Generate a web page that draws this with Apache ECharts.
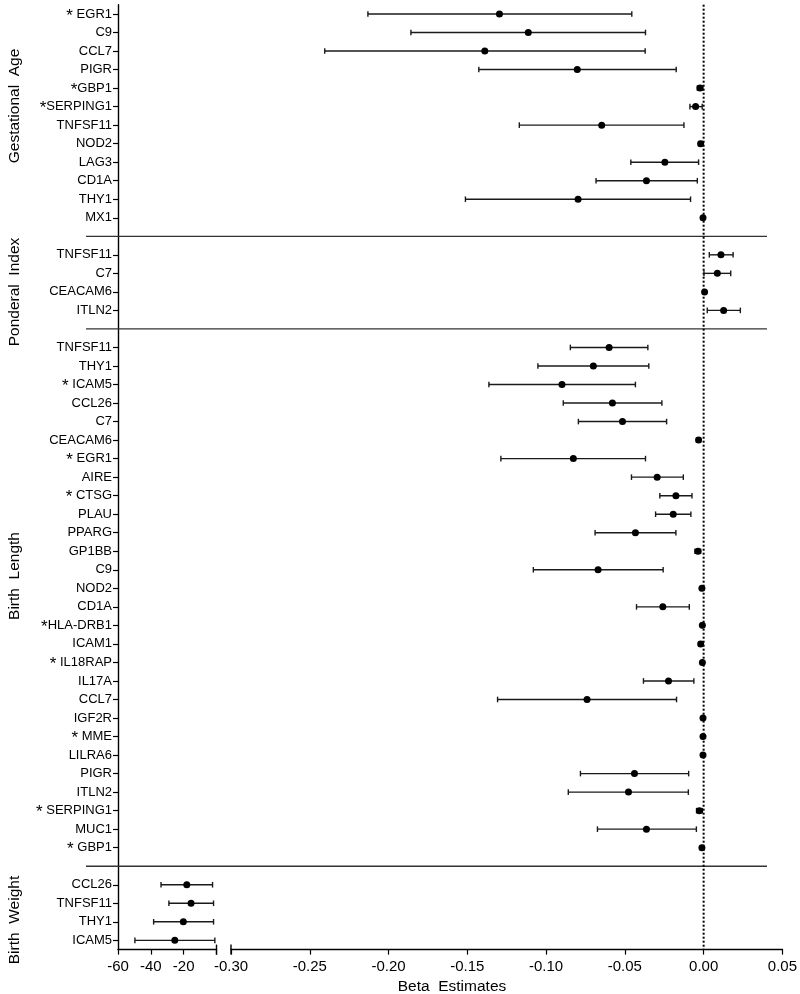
<!DOCTYPE html>
<html>
<head>
<meta charset="utf-8">
<script src="https://cdn.jsdelivr.net/npm/echarts@6/dist/echarts.min.js"></script>
<style>
html,body{margin:0;padding:0;background:#fff;}
#chart{width:800px;height:994px;}
</style>
</head>
<body>
<div id="chart"></div>
<script>
// ---------------- DATA ----------------
const panelTitles = ['Gestational  Age', 'Ponderal  Index', 'Birth  Length', 'Birth  Weight'];

const gaGenes = ['* EGR1', 'C9', 'CCL7', 'PIGR', '*GBP1', '*SERPING1', 'TNFSF11', 'NOD2', 'LAG3', 'CD1A', 'THY1', 'MX1'];
const gaEst  = [-0.1296, -0.1113, -0.1389, -0.0802, -0.0023, -0.0051, -0.0647, -0.0019, -0.0246, -0.0363, -0.0797, -0.0004];
const gaLow  = [-0.2131, -0.1858, -0.2405, -0.1427, -0.0040, -0.0087, -0.1170, -0.0032, -0.0462, -0.0683, -0.1512, -0.0008];
const gaHigh = [-0.0456, -0.0369, -0.0371, -0.0174, -0.0006, -0.0009, -0.0125, -0.0007, -0.0032, -0.0040, -0.0083, -0.0001];

const piGenes = ['TNFSF11', 'C7', 'CEACAM6', 'ITLN2'];
const piEst  = [0.0110, 0.0087, 0.0006, 0.0127];
const piLow  = [0.0036, 0.0002, 0.0004, 0.0023];
const piHigh = [0.0187, 0.0172, 0.0008, 0.0233];

const blGenes = ['TNFSF11', 'THY1', '* ICAM5', 'CCL26', 'C7', 'CEACAM6', '* EGR1', 'AIRE', '* CTSG', 'PLAU',
                 'PPARG', 'GP1BB', 'C9', 'NOD2', 'CD1A', '*HLA-DRB1', 'ICAM1', '* IL18RAP', 'IL17A', 'CCL7',
                 'IGF2R', '* MME', 'LILRA6', 'PIGR', 'ITLN2', '* SERPING1', 'MUC1', '* GBP1'];
const blEst  = [-0.0600, -0.0700, -0.0899, -0.0579, -0.0515, -0.0032, -0.0827, -0.0295, -0.0176, -0.0193,
                -0.0433, -0.0036, -0.0670, -0.0011, -0.0259, -0.0008, -0.0019, -0.0008, -0.0223, -0.0740,
                -0.0004, -0.0004, -0.0004, -0.0439, -0.0477, -0.0027, -0.0363, -0.0011];
const blLow  = [-0.0846, -0.1052, -0.1363, -0.0891, -0.0795, -0.0045, -0.1287, -0.0458, -0.0278, -0.0305,
                -0.0689, -0.0055, -0.1081, -0.0013, -0.0426, -0.0010, -0.0030, -0.0010, -0.0382, -0.1308,
                -0.0005, -0.0005, -0.0005, -0.0782, -0.0859, -0.0045, -0.0674, -0.0013];
const blHigh = [-0.0354, -0.0348, -0.0433, -0.0265, -0.0235, -0.0020, -0.0369, -0.0129, -0.0074, -0.0081,
                -0.0176, -0.0019, -0.0257, -0.0009, -0.0091, -0.0006, -0.0010, -0.0006, -0.0062, -0.0172,
                -0.0003, -0.0003, -0.0003, -0.0095, -0.0097, -0.0008, -0.0046, -0.0009];

const bwGenes = ['CCL26', 'TNFSF11', 'THY1', 'ICAM5'];
const bwEst  = [-18.1, -15.5, -20.2, -25.4];
const bwLow  = [-33.8, -29.0, -38.3, -49.7];
const bwHigh = [-2.4, -1.8, -1.8, -1.0];

const bwTicks = [-60, -40, -20];
const betaTicks = [-0.30, -0.25, -0.20, -0.15, -0.10, -0.05, 0.00, 0.05];

// ---------------- BUILD ROWS ----------------
const categories = [];   // unique keys
const labelOf = {};
const betaRows = [];     // [low, est, high, rowIndex]
const bwRows = [];
const dividerRows = [];

function addPanel(tag, genes, est, low, high, target) {
  genes.forEach((g, i) => {
    const key = tag + ':' + i;
    categories.push(key);
    labelOf[key] = g;
    target.push([low[i], est[i], high[i], categories.length - 1]);
  });
}
function addDivider(n) {
  const key = 'div:' + n;
  categories.push(key);
  labelOf[key] = '';
  dividerRows.push([categories.length - 1]);
}
addPanel('ga', gaGenes, gaEst, gaLow, gaHigh, betaRows); addDivider(1);
addPanel('pi', piGenes, piEst, piLow, piHigh, betaRows); addDivider(2);
addPanel('bl', blGenes, blEst, blLow, blHigh, betaRows); addDivider(3);
addPanel('bw', bwGenes, bwEst, bwLow, bwHigh, bwRows);

// ---------------- LAYOUT ----------------
const TOP = 4.7, HEIGHT = 944.9;
const FONT = '"Liberation Sans", Arial, Helvetica, sans-serif';
const titleCenters = [106, 292, 576, 920];

function errRender(params, api) {
  const yi = api.value(3);
  const pLo = api.coord([api.value(0), yi]);
  const pE = api.coord([api.value(1), yi]);
  const pHi = api.coord([api.value(2), yi]);
  const cap = 2.8;
  const ls = { stroke: '#1a1a1a', lineWidth: 1.4 };
  return {
    type: 'group',
    children: [
      { type: 'line', shape: { x1: pLo[0], y1: pLo[1], x2: pHi[0], y2: pHi[1] }, style: ls },
      { type: 'line', shape: { x1: pLo[0], y1: pLo[1] - cap, x2: pLo[0], y2: pLo[1] + cap }, style: ls },
      { type: 'line', shape: { x1: pHi[0], y1: pHi[1] - cap, x2: pHi[0], y2: pHi[1] + cap }, style: ls },
      { type: 'circle', shape: { cx: pE[0], cy: pE[1], r: 3.5 }, style: { fill: '#000' } }
    ]
  };
}

function dividerRender(params, api) {
  const y = api.coord([0, api.value(0)])[1];
  const cs = params.coordSys;
  return { type: 'line', shape: { x1: cs.x, y1: y, x2: cs.x + cs.width, y2: y },
           style: { stroke: '#333', lineWidth: 1.3 } };
}

function zeroRender(params, api) {
  const x = api.coord([api.value(0), 0])[0];
  const cs = params.coordSys;
  return { type: 'line', shape: { x1: x, y1: cs.y, x2: x, y2: cs.y + cs.height },
           style: { stroke: '#000', lineWidth: 2, lineDash: [2, 2] } };
}

// small upward tick marking the axis break at the given axis value
function breakRender(params, api) {
  const x = api.coord([api.value(0), 0])[0];
  const cs = params.coordSys;
  const b = cs.y + cs.height;
  return { type: 'line', shape: { x1: x, y1: b - 5, x2: x, y2: b + 5 },
           style: { stroke: '#000', lineWidth: 1.4 } };
}

function catAxis(grid, show) {
  return {
    type: 'category', gridIndex: grid, data: categories, inverse: true, boundaryGap: true,
    show: show, position: 'left',
    axisLine: { show: show, onZero: false, lineStyle: { color: '#000', width: 1.4 } },
    axisTick: { show: show, alignWithLabel: true, length: 5, lineStyle: { color: '#000', width: 1.2 },
                interval: (i, v) => labelOf[v] !== '' },
    axisLabel: {
      show: show, interval: 0, margin: 6, color: '#000', fontFamily: FONT, fontSize: 13,
      formatter: v => {
        const t = labelOf[v];
        if (t && t[0] === '*') return '{a|*}' + t.slice(1);
        return t;
      },
      rich: { a: { fontSize: 17, fontFamily: FONT, color: '#000', padding: [4, 0, 0, 0] } }
    }
  };
}

const tickLabel = { color: '#000', fontFamily: FONT, fontSize: 15, margin: 10 };

const option = {
  animation: false,
  backgroundColor: '#fff',
  grid: [
    { left: 118, top: TOP, width: 98.5, height: HEIGHT },
    { left: 231, top: TOP, width: 552, height: HEIGHT },
    { left: 86, top: TOP, width: 681, height: HEIGHT }
  ],
  xAxis: [
    { type: 'value', gridIndex: 0, min: -60, max: 0, interval: 20,
      axisLine: { show: true, onZero: false, lineStyle: { color: '#000', width: 1.4 } },
      axisTick: { show: true, length: 5, lineStyle: { color: '#000', width: 1.2 } },
      splitLine: { show: false },
      axisLabel: Object.assign({}, tickLabel, {
        formatter: v => (bwTicks.indexOf(v) >= 0 ? String(v) : '') }) },
    { type: 'value', gridIndex: 1, min: -0.30, max: 0.05, interval: 0.05,
      axisLine: { show: true, onZero: false, lineStyle: { color: '#000', width: 1.4 } },
      axisTick: { show: true, length: 5, lineStyle: { color: '#000', width: 1.2 } },
      splitLine: { show: false },
      axisLabel: Object.assign({}, tickLabel, {
        formatter: v => {
          const m = betaTicks.find(t => Math.abs(t - v) < 1e-9);
          return m === undefined ? '' : m.toFixed(2);
        } }) },
    { type: 'value', gridIndex: 2, min: 0, max: 1, show: false }
  ],
  yAxis: [catAxis(0, true), catAxis(1, false), catAxis(2, false)],
  series: [
    { type: 'custom', name: 'dividers', xAxisIndex: 2, yAxisIndex: 2, renderItem: dividerRender,
      data: dividerRows, encode: { y: 0 }, silent: true, z: 1 },
    { type: 'custom', name: 'zero', xAxisIndex: 1, yAxisIndex: 1, renderItem: zeroRender,
      data: [[0]], encode: { x: 0 }, silent: true, z: 2 },
    { type: 'custom', name: 'breakL', xAxisIndex: 0, yAxisIndex: 0, renderItem: breakRender,
      data: [[0]], encode: { x: 0 }, silent: true, z: 2 },
    { type: 'custom', name: 'breakR', xAxisIndex: 1, yAxisIndex: 1, renderItem: breakRender,
      data: [[-0.30]], encode: { x: 0 }, silent: true, z: 2 },
    { type: 'custom', name: 'beta', xAxisIndex: 1, yAxisIndex: 1, renderItem: errRender,
      data: betaRows, encode: { x: [0, 1, 2], y: 3 }, z: 3 },
    { type: 'custom', name: 'weight', xAxisIndex: 0, yAxisIndex: 0, renderItem: errRender,
      data: bwRows, encode: { x: [0, 1, 2], y: 3 }, z: 3 }
  ],
  graphic: panelTitles.map((t, i) => ({
    type: 'text', x: 15, y: titleCenters[i], rotation: Math.PI / 2,
    style: { text: t, fill: '#000', font: '15.5px ' + FONT, align: 'center', verticalAlign: 'middle' }
  })).concat([{
    type: 'text', x: 452, y: 987,
    style: { text: 'Beta  Estimates', fill: '#000', font: '15.5px ' + FONT, align: 'center', verticalAlign: 'middle' }
  }])
};

const chart = echarts.init(document.getElementById('chart'), null, { renderer: 'canvas' });
chart.setOption(option);
</script>
</body>
</html>
